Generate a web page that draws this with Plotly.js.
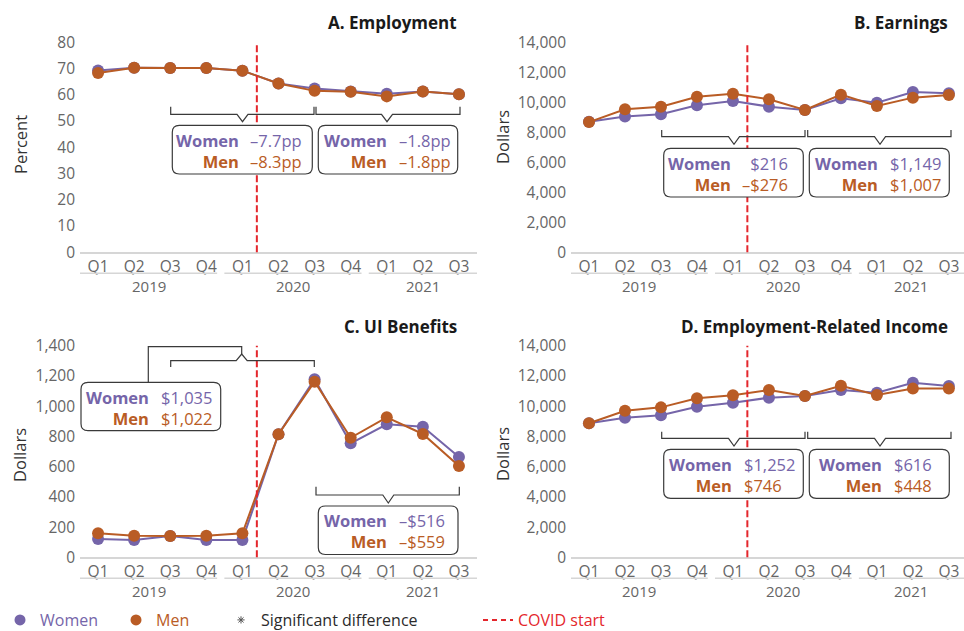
<!DOCTYPE html>
<html>
<head>
<meta charset="utf-8">
<script src="https://cdn.plot.ly/plotly-3.0.1.min.js"></script>
<style>html,body{margin:0;padding:0;background:#fff;}#chart{width:964px;height:631px;}</style>
</head>
<body>
<div id="chart"></div>
<script>
// ---------- DATA ----------
const quarters = ['Q1','Q2','Q3','Q4','Q1','Q2','Q3','Q4','Q1','Q2','Q3'];
const years = ['2019','2020','2021'];
const yearFirstIdx = [0, 4, 8];
const yearLastIdx = [3, 7, 10];

const employmentWomen = [69.3, 70.3, 70.2, 70.2, 69.2, 64.3, 62.4, 61.3, 60.4, 61.3, 60.2];
const employmentMen   = [68.3, 70.3, 70.2, 70.2, 69.2, 64.3, 61.5, 61.2, 59.4, 61.3, 60.2];
const earningsWomen   = [8700, 9050, 9200, 9800, 10090, 9710, 9490, 10270, 9970, 10690, 10600];
const earningsMen     = [8680, 9530, 9710, 10370, 10570, 10200, 9490, 10510, 9750, 10310, 10490];
const uiWomen         = [121, 114, 141, 114, 114, 814, 1178, 754, 880, 864, 664];
const uiMen           = [159, 143, 141, 143, 159, 814, 1162, 791, 926, 816, 604];
const eriWomen        = [8870, 9240, 9400, 9960, 10230, 10560, 10670, 11070, 10890, 11550, 11330];
const eriMen          = [8870, 9700, 9920, 10520, 10720, 11070, 10670, 11350, 10740, 11160, 11160];

const panelTitles = ['A. Employment', 'B. Earnings', 'C. UI Benefits', 'D. Employment-Related Income'];
const yTitles = ['Percent', 'Dollars', 'Dollars', 'Dollars'];
const yTickVals = [
  [0,10,20,30,40,50,60,70,80],
  [0,2000,4000,6000,8000,10000,12000,14000],
  [0,200,400,600,800,1000,1200,1400],
  [0,2000,4000,6000,8000,10000,12000,14000]
];
const covidIndex = 4.4;

// change boxes: [women, men] for the two periods
const boxValues = [
  [['–7.7pp','–8.3pp'], ['–1.8pp','–1.8pp']],
  [['$216','–$276'], ['$1,149','$1,007']],
  [['$1,035','$1,022'], ['–$516','–$559']],
  [['$1,252','$746'], ['$616','$448']]
];

// ---------- STYLE / LAYOUT ----------
const W = 964, H = 631;
const FONT = '"Open Sans", "Noto Sans", Arial, sans-serif';
const PURPLE = '#7565a9', ORANGE = '#b95c25', RED = '#e4262c', INK = '#2b2b2b', GRAY = '#666666';
const px = (x) => x / W;
const py = (y) => 1 - y / H;

const panels = [
  {xd:[80,477],  yd:[42.3,252.3],  xr:[-0.5,10.5],  yr:[0,80],    w:employmentWomen, m:employmentMen, titleX:459, titleY:22, yTitleX:20, yTitleY:145},
  {xd:[571,964], yd:[42.3,252.3],  xr:[-0.5,10.42], yr:[0,14000], w:earningsWomen,   m:earningsMen,   titleX:950, titleY:22, yTitleX:502, yTitleY:137},
  {xd:[80,477],  yd:[345.7,557.3], xr:[-0.5,10.5],  yr:[0,1400],  w:uiWomen,         m:uiMen,         titleX:459, titleY:326, yTitleX:19, yTitleY:455},
  {xd:[571,964], yd:[345.7,557.3], xr:[-0.5,10.42], yr:[0,14000], w:eriWomen,        m:eriMen,        titleX:950, titleY:326, yTitleX:502, yTitleY:454}
];

const xIdx = quarters.map((q,i) => i);
const traces = [];
const shapes = [];
const annotations = [];
const layout = {
  width: W, height: H,
  margin: {l:0, r:0, t:0, b:0, autoexpand: false},
  paper_bgcolor: '#ffffff', plot_bgcolor: 'rgba(0,0,0,0)',
  font: {family: FONT, color: GRAY, size: 15},
  showlegend: true,
  legend: {orientation: 'h', x: 0.0, xanchor: 'left', y: py(620), yanchor: 'middle',
           font: {family: FONT, size: 16, color: INK}, bgcolor: 'rgba(0,0,0,0)', traceorder: 'normal'},
  shapes: shapes, annotations: annotations
};

panels.forEach((p, k) => {
  const sfx = k === 0 ? '' : String(k + 1);
  const xa = 'xaxis' + sfx, ya = 'yaxis' + sfx;
  layout[xa] = {
    domain: [px(p.xd[0]), px(p.xd[1])], range: p.xr, anchor: 'y' + sfx,
    tickmode: 'array', tickvals: xIdx, ticktext: quarters,
    showgrid: false, zeroline: false, showline: true, linecolor: '#d6d6d6', linewidth: 1.5,
    ticks: '', tickfont: {family: FONT, size: 15.5, color: GRAY}, fixedrange: true, automargin: false
  };
  layout[ya] = {
    domain: [py(p.yd[1]), py(p.yd[0])], range: p.yr, anchor: 'x' + sfx,
    tickmode: 'array', tickvals: yTickVals[k], tickformat: ',d',
    showgrid: false, zeroline: false, showline: false, ticks: '', ticklabelstandoff: 4,
    tickfont: {family: FONT, size: 15.5, color: GRAY}, fixedrange: true, automargin: false
  };
  const common = {type: 'scatter', mode: 'lines+markers', x: xIdx, xaxis: 'x' + sfx, yaxis: 'y' + sfx,
                  hoverinfo: 'skip', cliponaxis: false, showlegend: false};
  traces.push(Object.assign({}, common, {
    y: p.w, name: 'Women', line: {color: PURPLE, width: 2}, marker: {color: PURPLE, size: 12}
  }));
  traces.push(Object.assign({}, common, {
    y: p.m, name: 'Men', line: {color: ORANGE, width: 2}, marker: {color: ORANGE, size: 12}
  }));

  // COVID start line
  shapes.push({type: 'line', xref: 'x' + sfx, yref: 'y' + sfx + ' domain', x0: covidIndex, x1: covidIndex, y0: 0, y1: 1,
               line: {color: RED, width: 2, dash: '7px,3px'}});

  // year grouping under the quarter labels
  years.forEach((yr, j) => {
    const a = yearFirstIdx[j] - 0.5;
    const b = j === years.length - 1 ? p.xr[1] : yearLastIdx[j] + 0.3;
    shapes.push({type: 'line', xref: 'x' + sfx, yref: 'paper', x0: a, x1: b, y0: py(p.yd[1] + 21), y1: py(p.yd[1] + 21),
                 line: {color: '#d6d6d6', width: 1.5}});
    annotations.push({xref: 'x' + sfx, yref: 'paper', x: (a + b) / 2, y: py(p.yd[1] + 33.5), text: yr, showarrow: false,
                      xanchor: 'center', yanchor: 'middle', borderpad: 0, height: 16,
                      font: {family: FONT, size: 15, color: GRAY}});
  });

  // panel title
  annotations.push({xref: 'paper', yref: 'paper', x: px(p.titleX), y: py(p.titleY), text: '<b>' + panelTitles[k] + '</b>',
                    showarrow: false, xanchor: 'right', yanchor: 'middle', font: {family: FONT, size: 17, color: '#1a1a1a'}});
  // y axis title
  annotations.push({xref: 'paper', yref: 'paper', x: px(p.yTitleX), y: py(p.yTitleY), text: yTitles[k], textangle: -90,
                    showarrow: false, xanchor: 'center', yanchor: 'middle', font: {family: FONT, size: 16.5, color: '#333333'}});
});

// ---------- brackets and boxes (pixel layout) ----------
function pathFromPx(pts, close) {
  return pts.map((pt, i) => {
    if (pt[0] === 'Q') return 'Q' + px(pt[1]) + ',' + py(pt[2]) + ' ' + px(pt[3]) + ',' + py(pt[4]);
    return (i === 0 ? 'M' : 'L') + px(pt[0]) + ',' + py(pt[1]);
  }).join(' ') + (close ? ' Z' : '');
}
function bracket(x0, x1, xm, yEnd, yH, yTip) {
  const hw = 5.5;
  const pts = [[x0, yEnd], [x0, yH], [xm - hw, yH], [xm, yTip], [xm + hw, yH], [x1, yH], [x1, yEnd]];
  shapes.push({type: 'path', xref: 'paper', yref: 'paper', path: pathFromPx(pts, false), line: {color: '#3a3a3a', width: 1.2}});
}
function roundBox(x0, y0, x1, y1) {
  const r = 7;
  const pts = [[x0 + r, y0], [x1 - r, y0], ['Q', x1, y0, x1, y0 + r], [x1, y1 - r], ['Q', x1, y1, x1 - r, y1],
               [x0 + r, y1], ['Q', x0, y1, x0, y1 - r], [x0, y0 + r], ['Q', x0, y0, x0 + r, y0]];
  shapes.push({type: 'path', xref: 'paper', yref: 'paper', path: pathFromPx(pts, true),
               line: {color: '#3a3a3a', width: 1.2}, fillcolor: '#ffffff', layer: 'above'});
  return (y0 + y1) / 2;
}
function boxText(labelEnd, valX, valAnchor, yMid, vals) {
  const lab = '<b><span style="color:' + PURPLE + '">Women</span><br><span style="color:' + ORANGE + '">Men</span></b>';
  const val = '<span style="color:' + PURPLE + '">' + vals[0] + '</span><br><span style="color:' + ORANGE + '">' + vals[1] + '</span>';
  annotations.push({xref: 'paper', yref: 'paper', x: px(labelEnd), y: py(yMid), text: lab, showarrow: false,
                    xanchor: 'right', yanchor: 'middle', align: 'right', font: {family: FONT, size: 16.5}});
  annotations.push({xref: 'paper', yref: 'paper', x: px(valX), y: py(yMid), text: val, showarrow: false,
                    xanchor: valAnchor, yanchor: 'middle', align: valAnchor, font: {family: FONT, size: 16.5}});
}

// Panel A
bracket(170.7, 314, 242.5, 106.7, 114.3, 121.7);
bracket(316, 460, 387, 106.7, 114.3, 121.7);
boxText(240.7, 248, 'left', roundBox(172.3, 125.3, 312.3, 174) + 1, boxValues[0][0]);
boxText(389, 396.5, 'left', roundBox(318.3, 125.3, 457.7, 174) + 1, boxValues[0][1]);

// Panel B
bracket(661.7, 805, 734, 130, 136.7, 144.3);
bracket(807.7, 951, 880, 130, 136.7, 144.3);
boxText(733.3, 790, 'right', roundBox(663.7, 148.3, 803.3, 197) + 1, boxValues[1][0]);
boxText(880, 888, 'left', roundBox(809.3, 148.3, 949.3, 197) + 1, boxValues[1][1]);

// Panel C (upper bracket points up, with connector to the box)
bracket(170.7, 314.3, 241.7, 367, 360.7, 354);
shapes.push({type: 'path', xref: 'paper', yref: 'paper',
  path: pathFromPx([[241.7, 354], [241.7, 346.7], [148.3, 346.7], [148.3, 382.3]], false),
  line: {color: '#3a3a3a', width: 1.2}});
boxText(151, 159, 'left', roundBox(81, 382.3, 220.7, 430.7) + 1, boxValues[2][0]);
bracket(316, 459.3, 388.3, 486.7, 495, 503);
boxText(389, 396.5, 'left', roundBox(318.3, 506, 458, 554.5) + 1, boxValues[2][1]);

// Panel D
bracket(661.7, 805, 734, 431.7, 438.3, 446);
bracket(807.7, 951, 880, 431.7, 438.3, 446);
boxText(734.3, 742, 'left', roundBox(663.7, 449.3, 803.3, 498.3) + 1, boxValues[3][0]);
boxText(884.3, 892, 'left', roundBox(809.3, 449.3, 949.3, 498.3) + 1, boxValues[3][1]);

// ---------- legend-only entries ----------
const legendOnly = {type: 'scatter', x: [null], y: [null], xaxis: 'x', yaxis: 'y', hoverinfo: 'skip', showlegend: true};
traces.push(Object.assign({}, legendOnly, {mode: 'markers', name: '<span style="color:' + PURPLE + '">Women</span>',
  marker: {color: PURPLE, size: 11}, legendwidth: 71}));
traces.push(Object.assign({}, legendOnly, {mode: 'markers', name: '<span style="color:' + ORANGE + '">Men</span>',
  marker: {color: ORANGE, size: 11}, legendwidth: 60}));
traces.push(Object.assign({}, legendOnly, {mode: 'markers', name: '<span style="color:#2b2b2b">Significant difference</span>',
  marker: {symbol: 'asterisk', size: 6, color: '#555', line: {color: '#555', width: 1}}, legendwidth: 212}));
traces.push(Object.assign({}, legendOnly, {mode: 'lines', name: '<span style="color:' + RED + '">COVID start</span>',
  line: {color: RED, width: 2, dash: '5px,4px'}, legendwidth: 110}));

Plotly.newPlot('chart', traces, layout, {staticPlot: true, displayModeBar: false});
</script>
</body>
</html>
